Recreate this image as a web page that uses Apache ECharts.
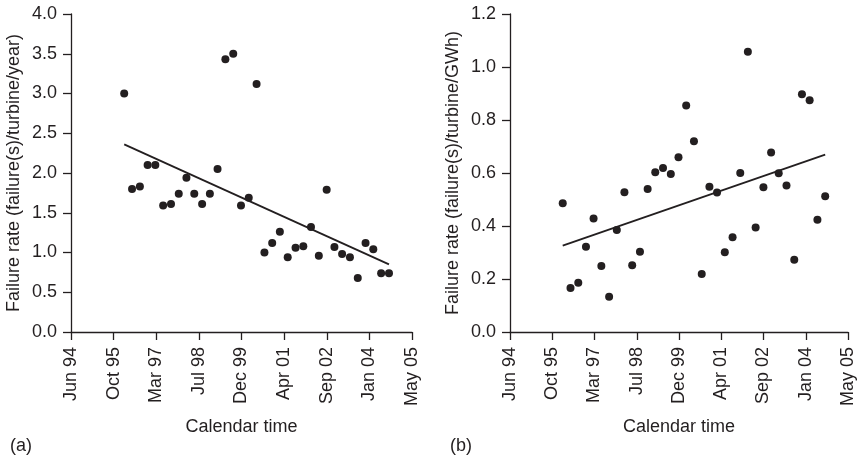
<!DOCTYPE html>
<html>
<head>
<meta charset="utf-8">
<script src="https://cdn.jsdelivr.net/npm/echarts@6/dist/echarts.min.js"></script>
<style>
html,body{margin:0;padding:0;background:#fff;}
#chart{width:857px;height:462px;}
</style>
</head>
<body>
<div id="chart"></div>
<script>
// ---- data ----
const dates = [
  '1996-03-01','1996-06-01','1996-09-01','1996-12-01',
  '1997-03-01','1997-06-01','1997-09-01','1997-12-01',
  '1998-03-01','1998-06-01','1998-09-01','1998-12-01',
  '1999-03-01','1999-06-01','1999-09-01','1999-12-01',
  '2000-03-01','2000-06-01','2000-09-01','2000-12-01',
  '2001-03-01','2001-06-01','2001-09-01','2001-12-01',
  '2002-03-01','2002-06-01','2002-09-01','2002-12-01',
  '2003-03-01','2003-06-01','2003-09-01','2003-12-01',
  '2004-03-01','2004-06-01','2004-09-01'
];
const rateYear = [
  3.00, 1.80, 1.83, 2.10, 2.10, 1.59, 1.61, 1.74, 1.94, 1.74,
  1.61, 1.74, 2.05, 3.43, 3.50, 1.59, 1.69, 3.12, 1.00, 1.12,
  1.26, 0.94, 1.06, 1.08, 1.32, 0.96, 1.79, 1.07, 0.98, 0.94,
  0.68, 1.12, 1.04, 0.74, 0.74
];
const rateGWh = [
  0.486, 0.166, 0.186, 0.322, 0.428, 0.249, 0.133, 0.385, 0.527, 0.252,
  0.303, 0.540, 0.603, 0.619, 0.596, 0.659, 0.855, 0.720, 0.219, 0.548,
  0.526, 0.301, 0.358, 0.600, 1.058, 0.394, 0.546, 0.677, 0.599, 0.553,
  0.273, 0.897, 0.875, 0.424, 0.512
];
const trendDates = ['1996-03-01', '2004-09-01'];
const trendYear = [2.36, 0.85];
const trendGWh = [0.326, 0.669];
const xTickLabels = ['Jun 94','Oct 95','Mar 97','Jul 98','Dec 99','Apr 01','Sep 02','Jan 04','May 05'];
const axisStart = '1994-06-16';
const tickDays = 500;

// ---- helpers ----
const DAY = 86400000;
const dayOf = d => (Date.parse(d) - Date.parse(axisStart)) / DAY;
const pts = (ds, vs) => ds.map((d, i) => [dayOf(d), vs[i]]);

const ink = '#231f20';
const font = 'Liberation Sans, Arial, sans-serif';

function xAxis(gridIndex) {
  return {
    type: 'value', gridIndex,
    min: 0, max: tickDays * (xTickLabels.length - 1), interval: tickDays,
    name: 'Calendar time', nameLocation: 'middle', nameGap: 86,
    nameTextStyle: { color: ink, fontSize: 18, fontFamily: font },
    axisLine: { show: true, onZero: false, lineStyle: { color: ink, width: 1.3 } },
    axisTick: { show: true, inside: false, length: 8, lineStyle: { color: ink, width: 1.3 } },
    splitLine: { show: false },
    axisLabel: {
      rotate: 90, margin: 15, color: ink, fontSize: 18, fontFamily: font,
      formatter: v => xTickLabels[Math.round(v / tickDays)] || ''
    }
  };
}
function yAxis(gridIndex, max, interval, name) {
  return {
    type: 'value', gridIndex, min: 0, max, interval,
    name, nameLocation: 'middle', nameGap: 48, nameRotate: 90,
    nameTextStyle: { color: ink, fontSize: 18, fontFamily: font },
    axisLine: { show: true, lineStyle: { color: ink, width: 1.3 } },
    axisTick: { show: true, inside: false, length: 8, lineStyle: { color: ink, width: 1.3 } },
    splitLine: { show: false },
    axisLabel: { margin: 14, color: ink, fontSize: 18, fontFamily: font, formatter: v => v.toFixed(1) }
  };
}

const chart = echarts.init(document.getElementById('chart'));
chart.setOption({
  animation: false,
  backgroundColor: '#fff',
  grid: [
    { left: 71, right: 445, top: 14, bottom: 130 },
    { left: 510, right: 6, top: 14, bottom: 130 }
  ],
  xAxis: [xAxis(0), xAxis(1)],
  yAxis: [
    yAxis(0, 4, 0.5, 'Failure rate (failure(s)/turbine/year)'),
    yAxis(1, 1.2, 0.2, 'Failure rate (failure(s)/turbine/GWh)')
  ],
  graphic: [
    { type: 'text', left: 10, top: 437, style: { text: '(a)', fill: ink, font: '18px ' + font } },
    { type: 'text', left: 450, top: 437, style: { text: '(b)', fill: ink, font: '18px ' + font } }
  ],
  series: [
    { type: 'line', xAxisIndex: 0, yAxisIndex: 0, data: pts(trendDates, trendYear), symbol: 'none',
      lineStyle: { color: ink, width: 1.8 }, z: 1 },
    { type: 'scatter', xAxisIndex: 0, yAxisIndex: 0, data: pts(dates, rateYear), symbolSize: 8,
      itemStyle: { color: ink, opacity: 1 }, z: 2 },
    { type: 'line', xAxisIndex: 1, yAxisIndex: 1, data: pts(trendDates, trendGWh), symbol: 'none',
      lineStyle: { color: ink, width: 1.8 }, z: 1 },
    { type: 'scatter', xAxisIndex: 1, yAxisIndex: 1, data: pts(dates, rateGWh), symbolSize: 8,
      itemStyle: { color: ink, opacity: 1 }, z: 2 }
  ]
});
</script>
</body>
</html>
